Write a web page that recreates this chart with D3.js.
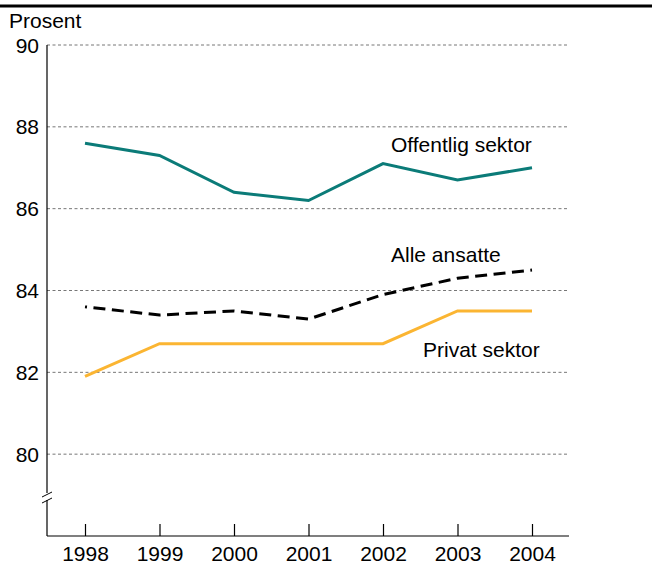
<!DOCTYPE html>
<html>
<head>
<meta charset="utf-8">
<script src="https://cdn.jsdelivr.net/npm/d3@7"></script>
<style>
  body { margin: 0; background: #fff; }
  text { font-family: "Liberation Sans", Arial, sans-serif; fill: #000; }
</style>
</head>
<body>
<div id="chart"></div>
<script>
// data
var years = [1998, 1999, 2000, 2001, 2002, 2003, 2004];
var offentlig = [87.6, 87.3, 86.4, 86.2, 87.1, 86.7, 87.0];
var alle = [83.6, 83.4, 83.5, 83.3, 83.9, 84.3, 84.5];
var privat = [81.9, 82.7, 82.7, 82.7, 82.7, 83.5, 83.5];
var yTicks = [80, 82, 84, 86, 88, 90];

function drawChart() {
  var svg_width = 652;
  var svg_height = 567;
  var fontSize = "21px";

  var svg = d3.select("#chart")
              .append("svg")
              .attr("width", svg_width)
              .attr("height", svg_height);

  // plot area edges
  var plotLeft = 47, plotRight = 569, plotTop = 45, plotBottom = 536;

  var x = d3.scalePoint()
            .domain(years)
            .range([85, 532]);

  var y = d3.scaleLinear()
            .domain([78, 90])
            .range([plotBottom, plotTop]);

  // top rule
  svg.append("line")
     .attr("x1", 0).attr("x2", svg_width)
     .attr("y1", 6).attr("y2", 6)
     .style("stroke", "#000")
     .style("stroke-width", 3);

  svg.append("text")
     .attr("x", 9).attr("y", 28)
     .style("font-size", fontSize)
     .text("Prosent");

  // dotted gridlines
  svg.append("g")
     .selectAll("line")
     .data(yTicks)
     .enter()
     .append("line")
     .attr("x1", plotLeft).attr("x2", plotRight - 1)
     .attr("y1", d => y(d)).attr("y2", d => y(d))
     .style("stroke", "#777")
     .style("stroke-width", 1)
     .style("stroke-dasharray", "3,2.5");

  // y labels
  svg.append("g")
     .selectAll("text")
     .data(yTicks)
     .enter()
     .append("text")
     .attr("x", 39)
     .attr("y", d => y(d) + 7.5)
     .attr("text-anchor", "end")
     .style("font-size", fontSize)
     .text(d => d);

  // y axis line
  svg.append("line")
     .attr("x1", plotLeft).attr("x2", plotLeft)
     .attr("y1", plotTop).attr("y2", plotBottom)
     .style("stroke", "#000")
     .style("stroke-width", 1.2);

  // axis break marks
  var brk = svg.append("g").attr("class", "break");
  brk.append("rect")
     .attr("x", plotLeft - 2).attr("y", 493).attr("width", 4).attr("height", 7)
     .style("fill", "#fff");
  [0, 6].forEach(function (o) {
    brk.append("line")
       .attr("x1", plotLeft - 5).attr("x2", plotLeft + 5)
       .attr("y1", 497 + o).attr("y2", 492 + o)
       .style("stroke", "#000")
       .style("stroke-width", 1);
  });

  // x axis, ticks pointing up
  var xAxis = d3.axisBottom(x)
                .tickSizeInner(-12)
                .tickSizeOuter(0)
                .tickPadding(10);

  var gx = svg.append("g")
     .attr("transform", "translate(0," + plotBottom + ")")
     .call(xAxis);
  gx.select(".domain").remove();
  gx.selectAll(".tick line").style("stroke", "#000").style("stroke-width", 1.2);
  gx.selectAll(".tick text")
    .style("font-size", fontSize)
    .style("font-family", "'Liberation Sans', Arial, sans-serif")
    .attr("fill", "#000");

  svg.append("line")
     .attr("x1", plotLeft).attr("x2", plotRight)
     .attr("y1", plotBottom).attr("y2", plotBottom)
     .style("stroke", "#000")
     .style("stroke-width", 1.2);

  // lines
  var line = d3.line()
               .x((d, i) => x(years[i]))
               .y(d => y(d));

  svg.append("path")
     .datum(offentlig)
     .attr("d", line)
     .style("fill", "none")
     .style("stroke", "#0b7b78")
     .style("stroke-width", 3);

  svg.append("path")
     .datum(alle)
     .attr("d", line)
     .style("fill", "none")
     .style("stroke", "#000")
     .style("stroke-width", 3)
     .style("stroke-dasharray", "12,6.5")
     .style("stroke-dashoffset", 10);

  svg.append("path")
     .datum(privat)
     .attr("d", line)
     .style("fill", "none")
     .style("stroke", "#fbb532")
     .style("stroke-width", 3);

  // series labels
  svg.append("text").attr("x", 391).attr("y", 152).style("font-size", fontSize).text("Offentlig sektor");
  svg.append("text").attr("x", 391).attr("y", 262).style("font-size", fontSize).text("Alle ansatte");
  svg.append("text").attr("x", 423).attr("y", 357).style("font-size", fontSize).text("Privat sektor");
}

drawChart();
</script>
</body>
</html>
